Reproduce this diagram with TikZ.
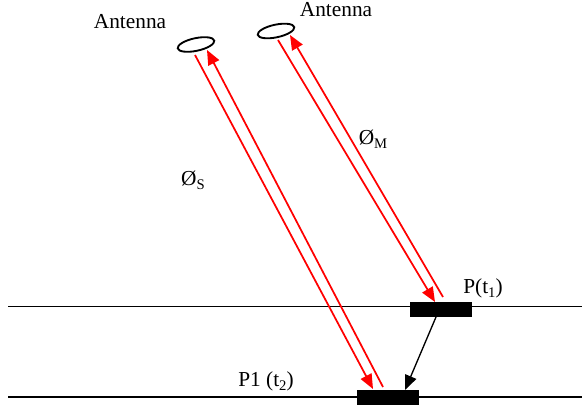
\documentclass[tikz,border=0pt]{standalone}
\usepackage{fontspec}
\setmainfont{Liberation Serif}
\usetikzlibrary{arrows.meta,shapes.geometric}
\newcommand{\lowsub}[1]{\raisebox{-0.4ex}{\fontsize{11}{11}\selectfont #1}}
\begin{document}
\begin{tikzpicture}[x=0.75pt,y=-0.75pt,
  lbl/.style={font=\fontsize{16}{18}\selectfont, inner sep=0pt},
  ant/.style={draw, ellipse, line width=1.4pt, minimum width=28pt, minimum height=9.5pt, inner sep=0pt, rotate=12},
  blk/.style={fill=black, draw=none, minimum width=46.5pt, minimum height=11.25pt, inner sep=0pt},
  track/.style={line width=1.1pt},
  sig/.style={red, line width=1.3pt},
  sigtip/.style={-{Triangle[length=11pt,width=9pt]}},
  mv/.style={line width=1pt, -{Triangle[length=11pt,width=9pt]}}]
\useasboundingbox (0,0) rectangle (582,406);
% tracks
\coordinate (l1a) at (8,306.5);
\coordinate (l1b) at (582,306.5);
\coordinate (l2a) at (8,397);
\coordinate (l2b) at (582,397);
\draw[track] (l1a) -- (l1b);
\draw[track] (l2a) -- (l2b);
% boxes
\node[blk] (p1) at (441,309.5) {};
\node[blk] (p2) at (388,397.5) {};
% antennas
\node[ant] (a1) at (196,44.5) {};
\node[ant] (a2) at (276,31) {};
% labels
\node[lbl] (t1) at (130,22) {Antenna};
\node[lbl] (t2) at (336,10) {Antenna};
\node[lbl] (phs) at (193,180) {Ø\lowsub{S}};
\node[lbl] (phm) at (373,139) {Ø\lowsub{M}};
\node[lbl] (lp) at (483,288) {P(t\lowsub{1})};
\node[lbl] (lp1) at (266,381) {P1 (t\lowsub{2})};
% signal endpoints
\coordinate (s1a) at (195,55);
\coordinate (s1b) at (373,389);
\coordinate (s1c) at (383,387);
\coordinate (s1d) at (207,50);
\coordinate (s2a) at (278,40);
\coordinate (s2b) at (435,302);
\coordinate (s2c) at (443,297);
\coordinate (s2d) at (290,35);
\draw[sig,sigtip] (s1a) -- (s1b);
\draw[sig,sigtip] (s1c) -- (s1d);
\draw[sig,sigtip] (s2a) -- (s2b);
\draw[sig,sigtip] (s2c) -- (s2d);
% movement
\coordinate (m1) at (436,317);
\coordinate (m2) at (405,390);
\draw[mv] (m1) -- (m2);
\end{tikzpicture}
\end{document}
